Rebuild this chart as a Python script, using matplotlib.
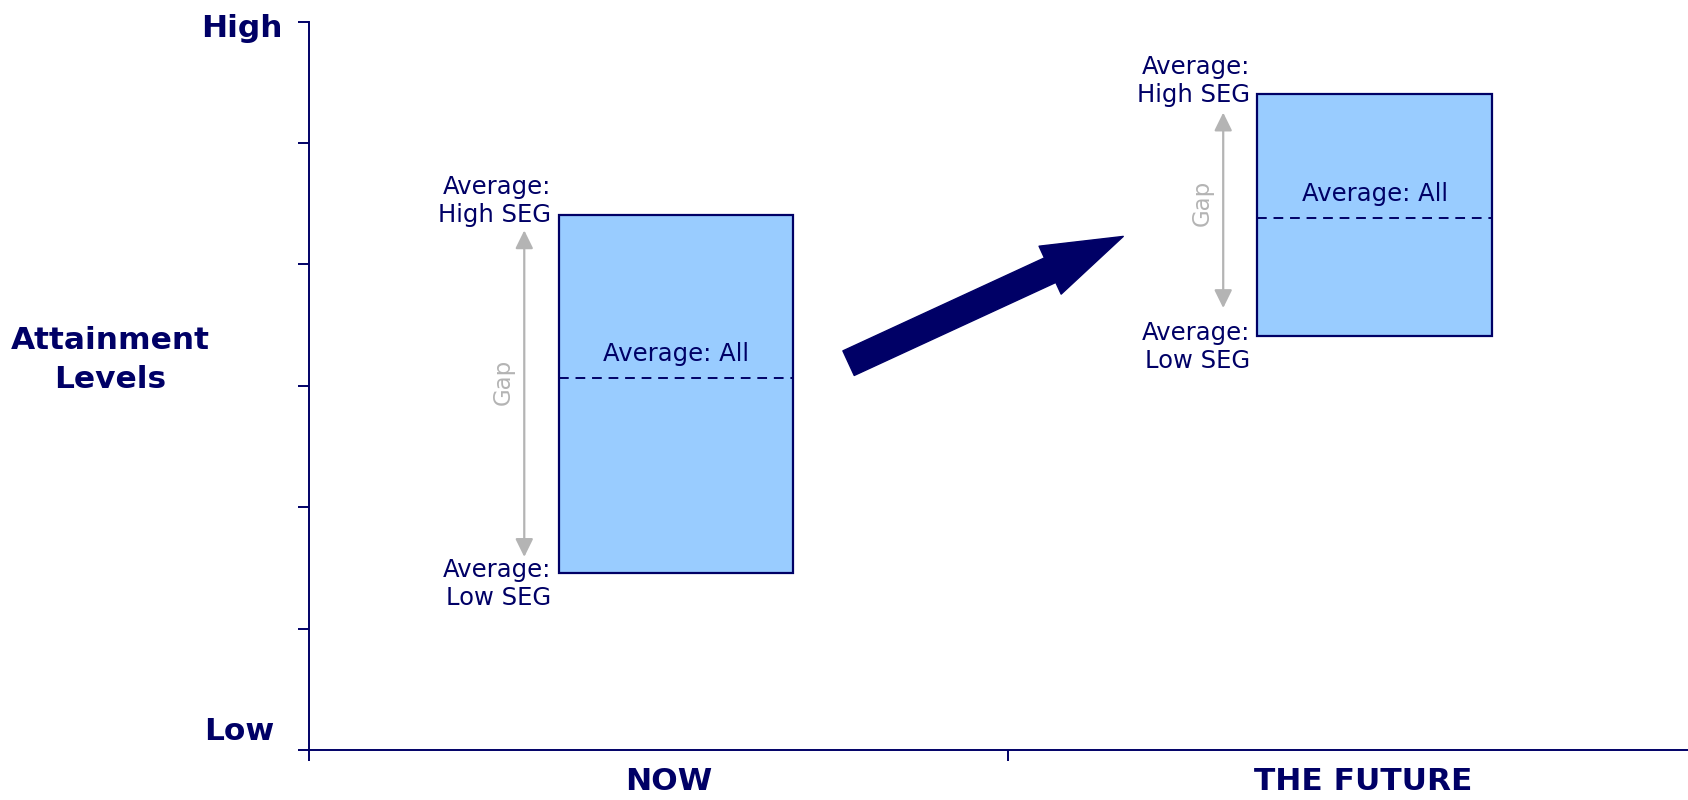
import matplotlib

matplotlib.use("Agg")
import matplotlib.pyplot as plt
from matplotlib.patches import Rectangle, FancyArrowPatch

# Data (attainment levels on a 0 = Low ... 6 = High scale)
stages = ["NOW", "THE FUTURE"]
high_seg = [4.41, 5.40]
low_seg = [1.46, 3.41]
avg_all = [3.06, 4.38]
level_labels = {0: "Low", 6: "High"}

navy = "#000066"
box_fill = "#99CCFF"
grey = "#B4B4B4"

plt.rcParams["font.family"] = ["DejaVu Sans"]

fig = plt.figure(figsize=(16.88, 8), dpi=100)
ax = fig.add_axes([309 / 1688, 50 / 800, 1379 / 1688, 728.5 / 800])
ax.set_xlim(0, 1.973)
ax.set_ylim(0, 6)

# spines / ticks
for side in ["top", "right"]:
    ax.spines[side].set_visible(False)
for side in ["left", "bottom"]:
    ax.spines[side].set_color(navy)
    ax.spines[side].set_linewidth(1.4)

ax.set_yticks(range(7))
ax.set_yticklabels([])
ax.tick_params(axis="y", direction="out", length=8, width=1.4, color=navy)
ax.set_xticks([0, 1])
ax.set_xticklabels([])
ax.tick_params(axis="x", which="major", direction="out", length=8, width=1.4, color=navy)
ax.set_xticks([0.515, 1.508], minor=True)
ax.set_xticklabels(stages, minor=True, fontsize=22.5, fontweight="bold", color=navy)
ax.tick_params(axis="x", which="minor", length=0, pad=12)

# High / Low labels
ytrans = ax.get_yaxis_transform()
ax.text(-0.019, 5.94, level_labels[6], transform=ytrans, ha="right", va="center",
        fontsize=22.5, fontweight="bold", color=navy)
ax.text(-0.025, 0.03, level_labels[0], transform=ytrans, ha="right", va="bottom",
        fontsize=22.5, fontweight="bold", color=navy)

fig.text(110 / 1688, 1 - 360 / 800, "Attainment\nLevels", ha="center", va="center",
         fontsize=22.5, fontweight="bold", color=navy, linespacing=1.4)

box_w = 0.335
gap_pad = [(0.13, 0.13), (0.23, 0.15)]
for i, stage in enumerate(stages):
    x0 = i + 0.357
    x1 = x0 + box_w
    ax.add_patch(Rectangle((x0, low_seg[i]), box_w, high_seg[i] - low_seg[i],
                           facecolor=box_fill, edgecolor=navy, linewidth=1.6, zorder=2))
    ax.plot([x0, x1], [avg_all[i], avg_all[i]], color=navy, linewidth=1.4,
            linestyle=(0, (5, 3.5)), zorder=3)
    ax.text((x0 + x1) / 2, avg_all[i] + 0.2, "Average: All", ha="center", va="center",
            fontsize=17.5, color=navy, zorder=4)
    ax.text(x0 - 0.011, high_seg[i] + 0.11, "Average:\nHigh SEG", ha="right", va="center",
            fontsize=17.5, color=navy)
    ax.text(x0 - 0.011, low_seg[i] - 0.09, "Average:\nLow SEG", ha="right", va="center",
            fontsize=17.5, color=navy)
    # gap arrow
    gx = x0 - 0.049
    ax.annotate("", xy=(gx, high_seg[i] - gap_pad[i][1]), xytext=(gx, low_seg[i] + gap_pad[i][0]),
                arrowprops=dict(arrowstyle="<|-|>,head_length=0.55,head_width=0.27",
                                mutation_scale=20, color=grey, linewidth=1.6,
                                shrinkA=0, shrinkB=0))
    ax.text(gx - 0.03, (high_seg[i] + low_seg[i]) / 2 + 0.1, "Gap", rotation=90,
            ha="center", va="center", fontsize=16.5, color=grey)

# big arrow from now to the future
big = FancyArrowPatch((0.772, 3.186), (1.165, 4.23),
                      arrowstyle="simple,head_length=58,head_width=38,tail_width=19.5",
                      mutation_scale=1, color=navy, shrinkA=0, shrinkB=0, zorder=5)
ax.add_patch(big)

fig.savefig("out.png", dpi=100)
